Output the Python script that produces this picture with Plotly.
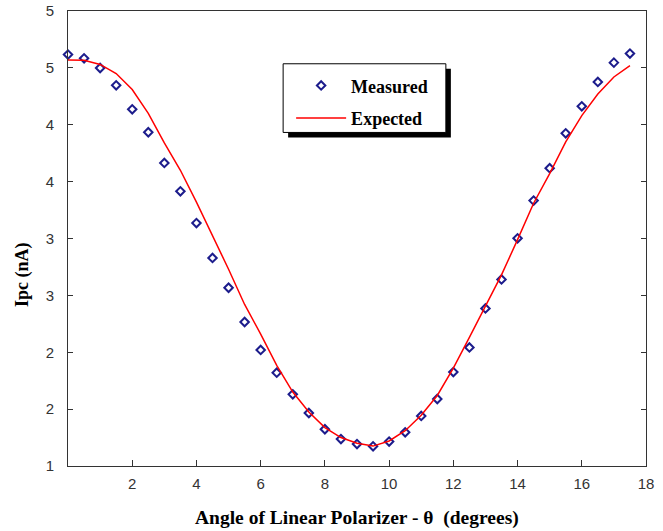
import plotly.graph_objects as go

angle = [0, 0.5, 1, 1.5, 2, 2.5, 3, 3.5, 4, 4.5, 5, 5.5, 6, 6.5, 7, 7.5, 8, 8.5,
         9, 9.5, 10, 10.5, 11, 11.5, 12, 12.5, 13, 13.5, 14, 14.5, 15, 15.5, 16, 16.5, 17, 17.5]

measured = [4.617, 4.584, 4.499, 4.347, 4.136, 3.934, 3.664, 3.415, 3.136, 2.829, 2.567, 2.266,
            2.020, 1.820, 1.630, 1.466, 1.323, 1.237, 1.193, 1.173, 1.215, 1.296, 1.440, 1.589,
            1.826, 2.042, 2.385, 2.640, 3.002, 3.333, 3.618, 3.925, 4.162, 4.376, 4.546, 4.626]

expected = [4.570, 4.567, 4.530, 4.450, 4.310, 4.100, 3.840, 3.600, 3.320, 3.030, 2.730, 2.420,
            2.160, 1.885, 1.650, 1.475, 1.338, 1.250, 1.200, 1.175, 1.220, 1.310, 1.446, 1.620,
            1.860, 2.130, 2.405, 2.680, 2.990, 3.310, 3.570, 3.850, 4.080, 4.270, 4.420, 4.520]

x_ticks = [2, 4, 6, 8, 10, 12, 14, 16, 18]
y_ticks = [1, 1.5, 2, 2.5, 3, 3.5, 4, 4.5, 5]
y_tick_text = ["1", "2", "2", "3", "3", "4", "4", "5", "5"]

fig = go.Figure()
fig.add_trace(go.Scatter(
    x=angle, y=measured, mode="markers", name="Measured", legendgroup="m",
    marker=dict(symbol="diamond-open", size=6.5, color="#1c1c8c", line=dict(width=2, color="#1c1c8c")),
    cliponaxis=False,
))
fig.add_trace(go.Scatter(
    x=angle, y=expected, mode="lines", name="Expected", legendgroup="e",
    line=dict(color="#ff0000", width=1.5),
    cliponaxis=False,
))

# plot area in pixels
W, H = 663, 531
L, R, T, B = 67.5, 645.7, 10.5, 465.7
pw, ph = R - L, B - T

def px_x(p):
    return (p - L) / pw

def px_y(p):
    return (B - p) / ph

serif = "Liberation Serif"
sans = "Liberation Sans"

box = dict(x0=282.7, x1=445.5, y0=63.3, y1=132.0)
shapes = [
    dict(type="rect", xref="paper", yref="paper",
         x0=px_x(box["x0"] + 5), x1=px_x(box["x1"] + 5),
         y0=px_y(box["y1"] + 5), y1=px_y(box["y0"] + 5),
         fillcolor="black", line=dict(width=0), layer="above"),
    dict(type="rect", xref="paper", yref="paper",
         x0=px_x(box["x0"]), x1=px_x(box["x1"]),
         y0=px_y(box["y1"]), y1=px_y(box["y0"]),
         fillcolor="white", line=dict(width=1, color="black"), layer="above"),
]

axis_common = dict(
    showgrid=False, zeroline=False, showline=True, linecolor="#333", linewidth=1,
    ticks="inside", tickcolor="#333", tickwidth=1, automargin=False,
    tickfont=dict(family=sans, size=15, color="#333"),
)

fig.update_layout(
    width=W, height=H,
    margin=dict(l=L, r=W - R, t=T, b=H - B, pad=0, autoexpand=False),
    paper_bgcolor="white", plot_bgcolor="white",
    showlegend=True,
    legend=dict(
        x=px_x(box["x0"] + 8), y=px_y(box["y0"] + 3.5), xanchor="left", yanchor="top",
        bgcolor="rgba(0,0,0,0)", borderwidth=0,
        font=dict(family=serif, size=18, color="black", weight="bold"),
        tracegroupgap=6, itemwidth=50,
    ),
    xaxis=dict(range=[0, 18], tickvals=x_ticks, ticklen=6, mirror=True,
               ticklabelstandoff=4, **axis_common),
    yaxis=dict(range=[1, 5], tickvals=y_ticks, ticktext=y_tick_text, ticklen=5, mirror="ticks",
               ticklabelstandoff=10, **axis_common),
    shapes=shapes,
    annotations=[
        dict(text="Angle of Linear Polarizer - θ  (degrees)", xref="paper", yref="paper",
             x=0.5, y=px_y(518), xanchor="center", yanchor="middle", showarrow=False,
             font=dict(family=serif, size=19.5, color="black", weight="bold")),
        dict(text="Ipc (nA)", xref="paper", yref="paper", textangle=-90,
             x=px_x(22), y=px_y(274), xanchor="center", yanchor="middle", showarrow=False,
             font=dict(family=serif, size=18, color="black", weight="bold")),
    ],
)

fig.write_html("out.html", config={"displayModeBar": False},
               post_script="document.body.style.margin='0';")
